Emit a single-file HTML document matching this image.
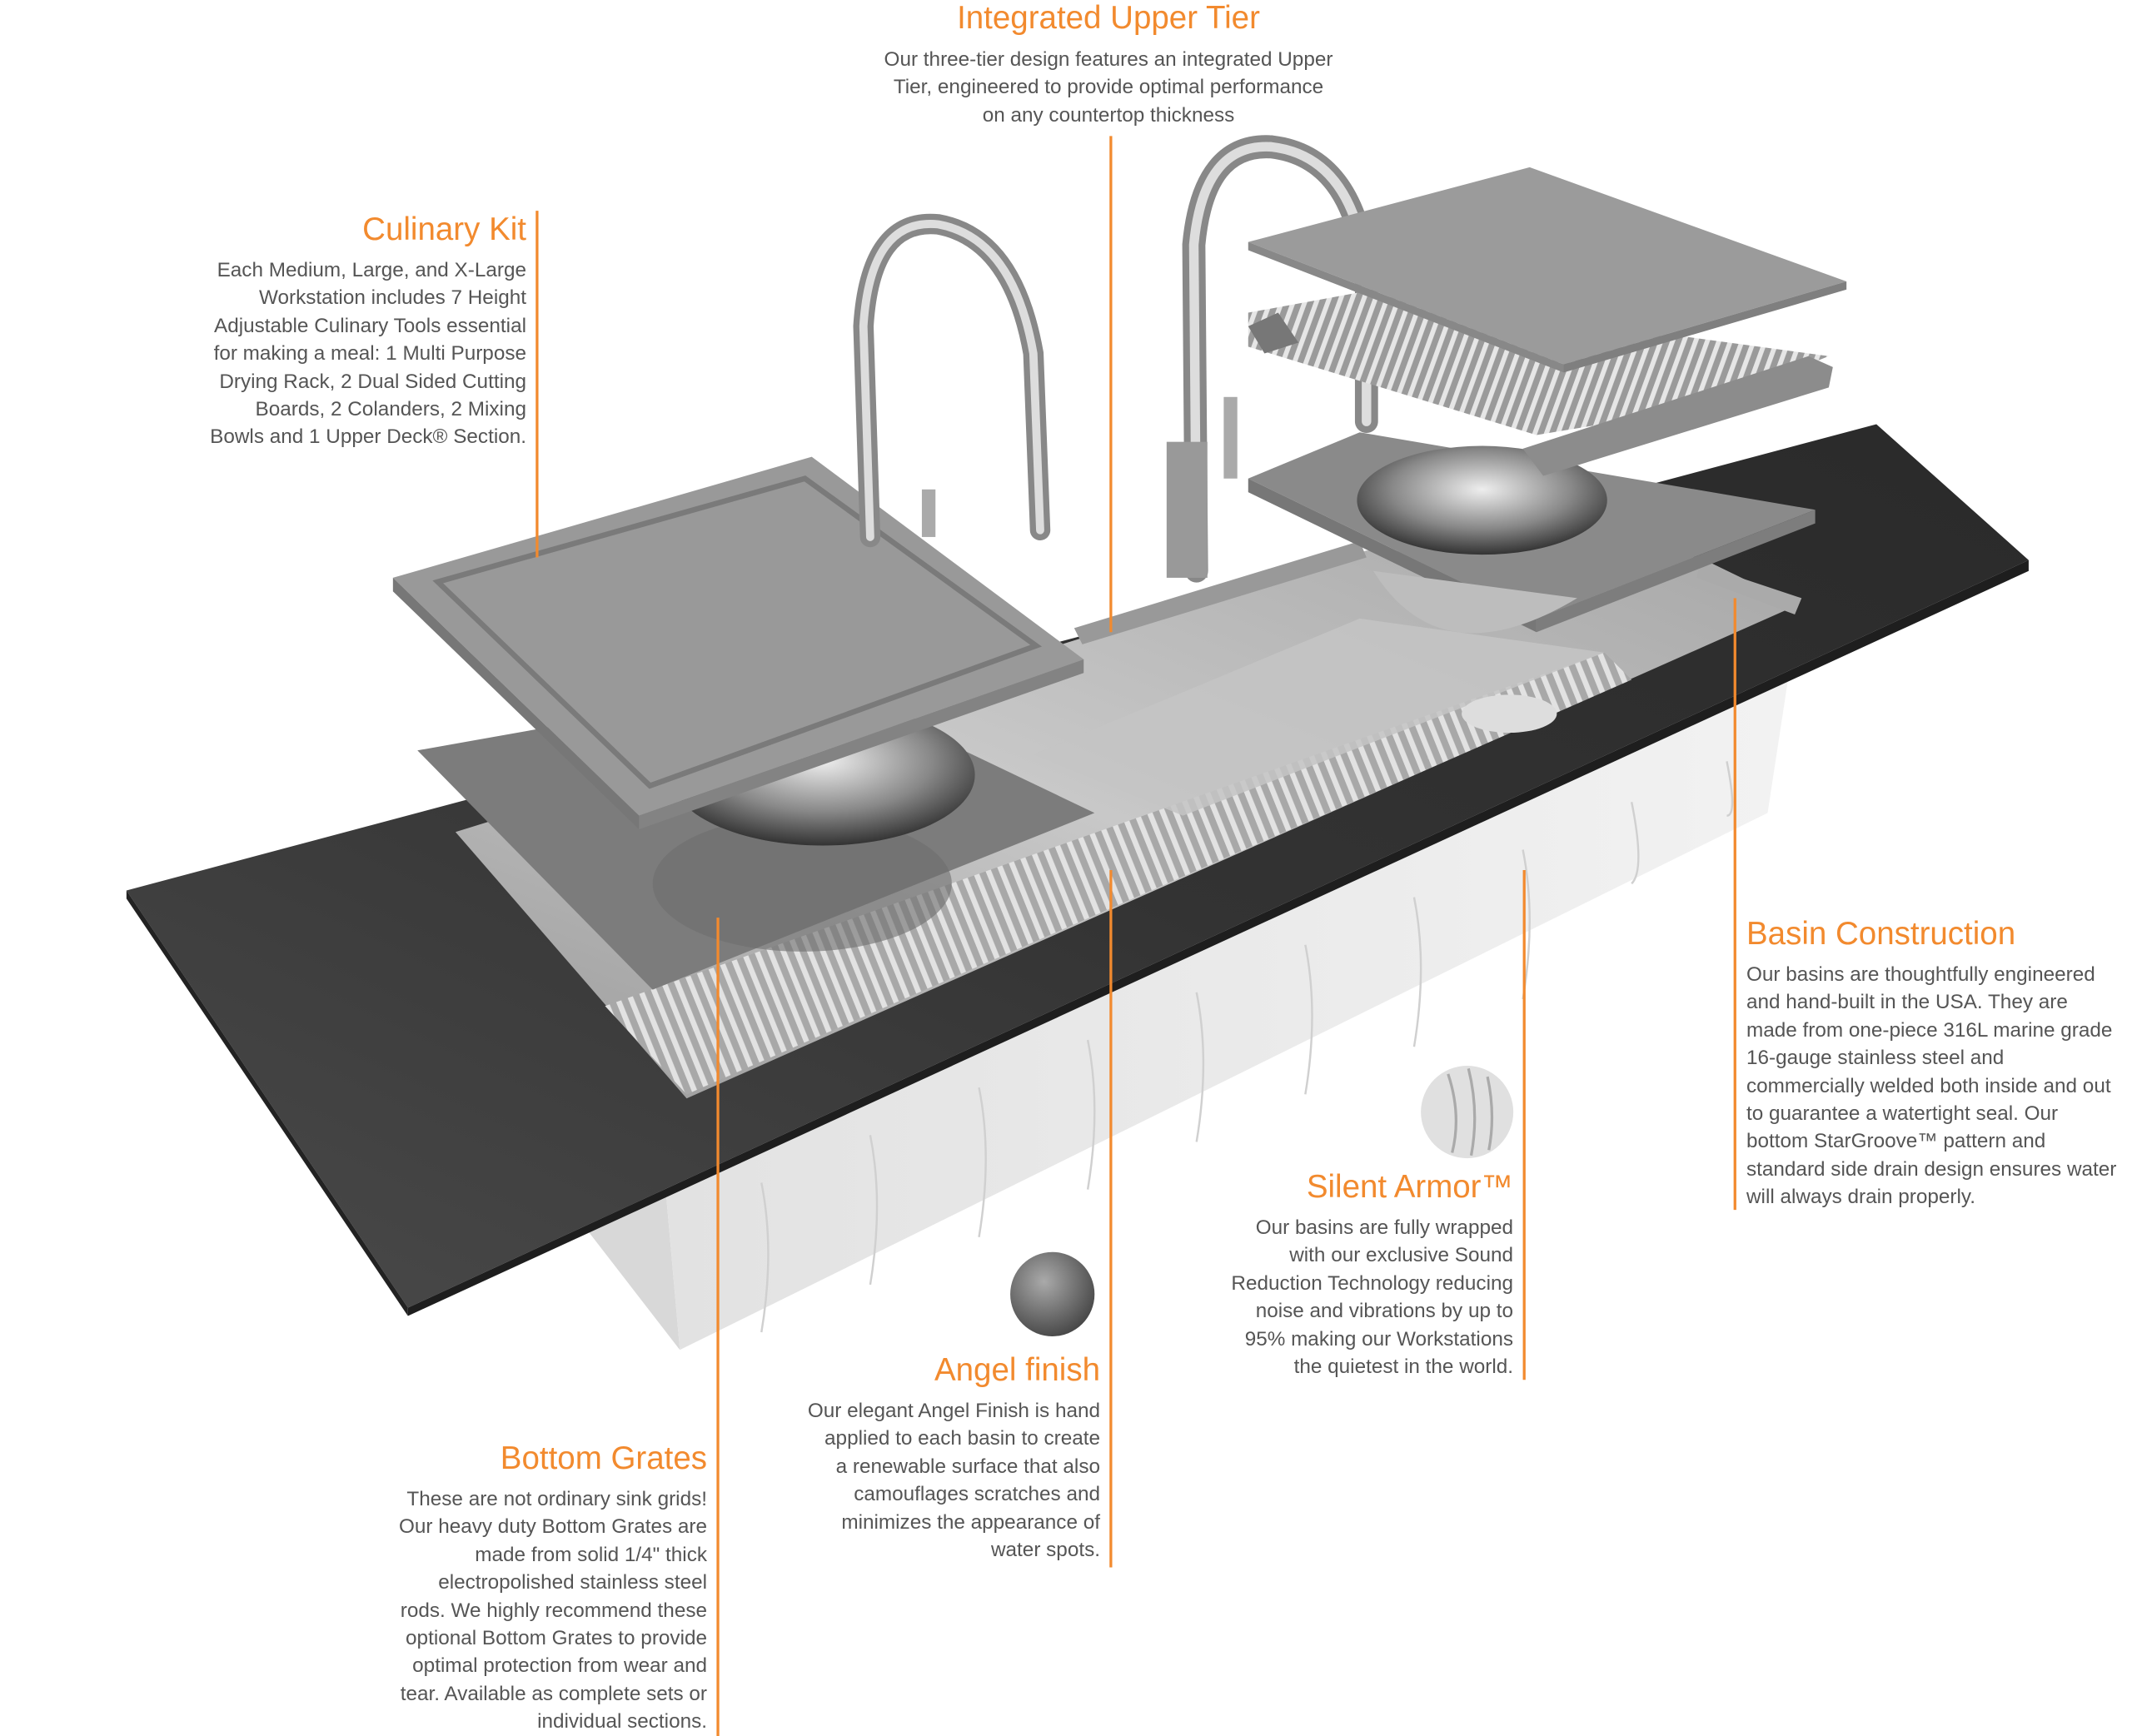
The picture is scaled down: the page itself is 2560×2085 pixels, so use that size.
<!DOCTYPE html>
<html><head><meta charset="utf-8"><style>
html,body{margin:0;padding:0;background:#fff}
#w{position:relative;width:2560px;height:2085px;overflow:hidden;background:#fff;font-family:"Liberation Sans",sans-serif}
svg{position:absolute;left:0;top:0}
.t{position:absolute;color:#f28a2e;font-size:38.5px;line-height:44px;white-space:nowrap}
.b{position:absolute;color:#555;font-size:24.3px;line-height:33.4px;white-space:nowrap}
.r{text-align:right}.c{text-align:center}
</style></head><body><div id="w">
<svg width="2560" height="2085" viewBox="0 0 1568 1277">
<defs>
<linearGradient id="slab" x1="0" y1="1" x2="1" y2="0"><stop offset="0" stop-color="#4a4a4a"/><stop offset="0.5" stop-color="#333"/><stop offset="1" stop-color="#2a2a2a"/></linearGradient>
<linearGradient id="apr" x1="0" y1="0" x2="1" y2="0"><stop offset="0" stop-color="#e2e2e2"/><stop offset="1" stop-color="#f2f2f2"/></linearGradient>
<linearGradient id="bas" x1="0" y1="1" x2="1" y2="0"><stop offset="0" stop-color="#9a9a9a"/><stop offset="0.5" stop-color="#c8c8c8"/><stop offset="1" stop-color="#a8a8a8"/></linearGradient>
<radialGradient id="bowl" cx="0.5" cy="0.4" r="0.6"><stop offset="0" stop-color="#eee"/><stop offset="0.6" stop-color="#888"/><stop offset="1" stop-color="#333"/></radialGradient>
<radialGradient id="ang" cx="0.4" cy="0.35" r="0.7"><stop offset="0" stop-color="#aaa"/><stop offset="1" stop-color="#444"/></radialGradient>
<pattern id="rods" width="9" height="9" patternUnits="userSpaceOnUse" patternTransform="rotate(-22)"><rect width="9" height="9" fill="#a8a8a8"/><rect width="4" height="9" fill="#e2e2e2"/></pattern>
<pattern id="rods2" width="8" height="8" patternUnits="userSpaceOnUse" patternTransform="rotate(20)"><rect width="8" height="8" fill="#9a9a9a"/><rect width="3.5" height="8" fill="#e6e6e6"/></pattern>
</defs>
<polygon points="432,905 500,993 490,880 440,860" fill="#d8d8d8"/>
<polygon points="490,880 500,993 1300,598 1315,500" fill="url(#apr)"/>
<g stroke="#d0d0d0" stroke-width="1.5" fill="none">
<path d="M560,870 q10,50 0,110 M640,835 q10,50 0,110 M720,800 q10,50 0,110 M800,765 q10,50 0,110 M880,730 q10,50 0,110 M960,695 q10,50 0,110 M1040,660 q10,50 0,110 M1120,625 q10,50 0,110 M1200,590 q10,50 0,60 M1270,560 q8,40 0,40"/>
</g>
<polygon points="93,655 1380,312 1492,412 300,962" fill="url(#slab)"/>
<polygon points="93,655 300,962 300,968 93,661" fill="#222"/>
<polygon points="300,962 1492,412 1492,420 300,968" fill="#1e1e1e"/>
<polygon points="335,612 800,468 1005,405 1250,410 1322,445 505,808" fill="url(#bas)"/>
<polygon points="445,740 1180,480 1200,500 505,805" fill="url(#rods)"/>
<polygon points="760,555 1000,455 1180,480 870,600" fill="#c4c4c4" opacity="0.85"/>
<ellipse cx="1110" cy="525" rx="35" ry="14" fill="#ddd"/>
<polygon points="790,462 1000,398 1005,410 796,474" fill="#999"/>
<polygon points="1250,415 1325,440 1320,452 1248,425" fill="#aaa"/>
<polygon points="307,552 600,500 805,598 480,728" fill="#7c7c7c"/>
<ellipse cx="590" cy="650" rx="110" ry="50" fill="#6e6e6e" opacity="0.6"/>
<ellipse cx="605" cy="570" rx="112" ry="52" fill="url(#bowl)"/>
<polygon points="289,425 597,336 797,485 470,600" fill="#999"/>
<polygon points="289,425 470,600 470,610 289,435" fill="#777"/>
<polygon points="470,600 797,485 797,495 470,610" fill="#838383"/>
<polygon points="322,428 592,352 762,475 478,578" fill="none" stroke="#7a7a7a" stroke-width="4"/>
<g fill="none" stroke-linecap="round">
<path d="M640,395 L635,240 Q640,160 690,165 Q745,175 760,260 L765,390" stroke="#888" stroke-width="15"/>
<path d="M640,395 L635,240 Q640,160 690,165 Q745,175 760,260 L765,390" stroke="#ddd" stroke-width="6"/>
<path d="M880,420 L878,180 Q885,105 935,108 Q995,115 1005,200 L1005,310" stroke="#888" stroke-width="17"/>
<path d="M880,420 L878,180 Q885,105 935,108 Q995,115 1005,200 L1005,310" stroke="#ddd" stroke-width="7"/>
</g>
<rect x="858" y="325" width="30" height="100" fill="#999"/>
<rect x="900" y="292" width="10" height="60" fill="#aaa"/>
<rect x="678" y="360" width="10" height="35" fill="#aaa"/>
<polygon points="918,352 1000,318 1335,375 1130,455" fill="#8a8a8a"/>
<polygon points="918,352 1130,455 1130,465 918,362" fill="#777"/>
<polygon points="1130,455 1335,375 1335,385 1130,465" fill="#7d7d7d"/>
<ellipse cx="1090" cy="368" rx="92" ry="40" fill="url(#bowl)"/>
<path d="M1010,420 Q1060,500 1160,440" fill="#bdbdbd"/>
<polygon points="918,230 1000,215 1345,262 1250,300 1130,320 918,255" fill="url(#rods2)"/>
<polygon points="918,240 940,230 955,252 930,260" fill="#777"/>
<polygon points="1120,330 1330,262 1348,270 1345,285 1135,350" fill="#8c8c8c"/>
<polygon points="918,178 1125,123 1358,207 1150,268" fill="#9b9b9b"/>
<polygon points="1150,268 1358,207 1358,213 1150,274" fill="#7f7f7f"/>
<polygon points="918,178 1150,268 1150,274 918,184" fill="#888"/>
<circle cx="1079" cy="818" r="34" fill="#e0e0e0"/>
<path d="M1065,790 Q1075,820 1068,848 M1080,786 Q1088,818 1082,850 M1094,792 Q1100,820 1095,846" stroke="#aaa" stroke-width="2" fill="none"/>
<circle cx="774" cy="952" r="31" fill="url(#ang)"/>
<g stroke="#f28a2e" stroke-width="2">
<line x1="817" y1="100" x2="817" y2="465"/>
<line x1="395" y1="155" x2="395" y2="410"/>
<line x1="1276" y1="440" x2="1276" y2="890"/>
<line x1="1121" y1="640" x2="1121" y2="1015"/>
<line x1="817" y1="640" x2="817" y2="1153"/>
<line x1="528" y1="675" x2="528" y2="1277"/>
</g>
</svg>

<div class="t c" style="left:1031px;width:600px;top:0px">Integrated Upper Tier</div>
<div class="b c" style="left:931px;width:800px;top:55px">Our three-tier design features an integrated Upper<br>Tier, engineered to provide optimal performance<br>on any countertop thickness</div>

<div class="t r" style="left:132px;width:500px;top:254px">Culinary Kit</div>
<div class="b r" style="left:132px;width:500px;top:308px">Each Medium, Large, and X-Large<br>Workstation includes 7 Height<br>Adjustable Culinary Tools essential<br>for making a meal: 1 Multi Purpose<br>Drying Rack, 2 Dual Sided Cutting<br>Boards, 2 Colanders, 2 Mixing<br>Bowls and 1 Upper Deck® Section.</div>

<div class="t" style="left:2097px;top:1100px">Basin Construction</div>
<div class="b" style="left:2097px;top:1154px">Our basins are thoughtfully engineered<br>and hand-built in the USA. They are<br>made from one-piece 316L marine grade<br>16-gauge stainless steel and<br>commercially welded both inside and out<br>to guarantee a watertight seal. Our<br>bottom StarGroove™ pattern and<br>standard side drain design ensures water<br>will always drain properly.</div>

<div class="t r" style="left:1317px;width:500px;top:1404px">Silent Armor™</div>
<div class="b r" style="left:1317px;width:500px;top:1458px">Our basins are fully wrapped<br>with our exclusive Sound<br>Reduction Technology reducing<br>noise and vibrations by up to<br>95% making our Workstations<br>the quietest in the world.</div>

<div class="t r" style="left:821px;width:500px;top:1624px">Angel finish</div>
<div class="b r" style="left:821px;width:500px;top:1678px">Our elegant Angel Finish is hand<br>applied to each basin to create<br>a renewable surface that also<br>camouflages scratches and<br>minimizes the appearance of<br>water spots.</div>

<div class="t r" style="left:349px;width:500px;top:1730px">Bottom Grates</div>
<div class="b r" style="left:349px;width:500px;top:1784px">These are not ordinary sink grids!<br>Our heavy duty Bottom Grates are<br>made from solid 1/4" thick<br>electropolished stainless steel<br>rods. We highly recommend these<br>optional Bottom Grates to provide<br>optimal protection from wear and<br>tear. Available as complete sets or<br>individual sections.</div>
</div></body></html>
